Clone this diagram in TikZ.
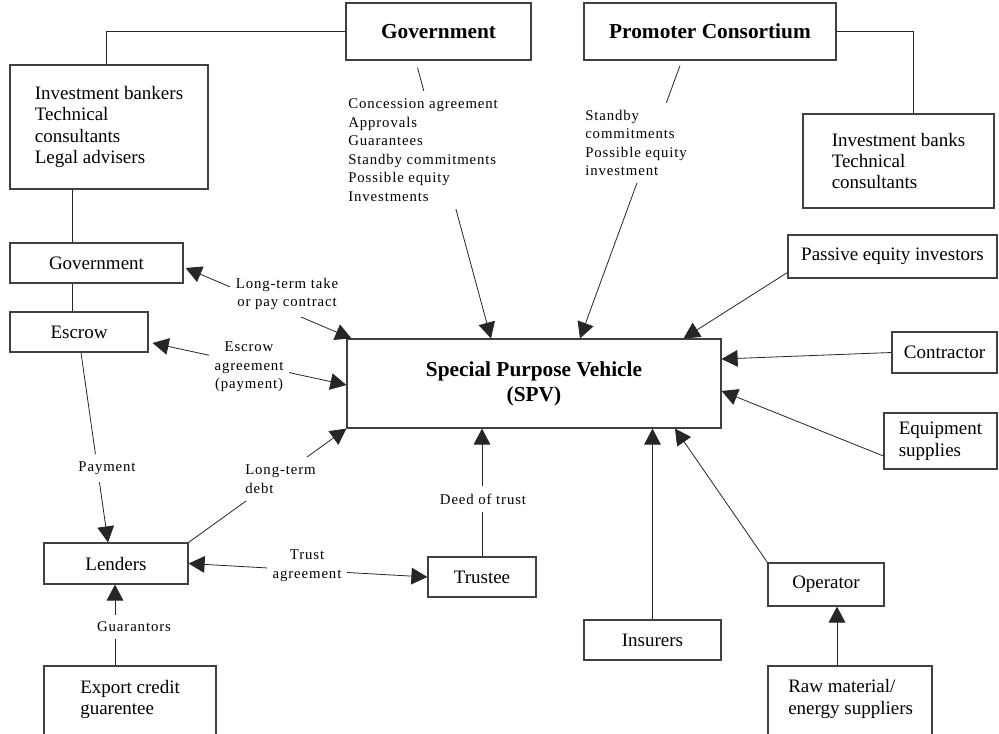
\documentclass[tikz,border=0pt]{standalone}
\usepackage{fontspec}
\setmainfont{Liberation Serif}
\newfontfamily\lblfont[LetterSpace=6]{Liberation Serif}
\usetikzlibrary{arrows.meta}

\begin{document}
\begin{tikzpicture}[x=0.75pt,y=-0.75pt,
  sz/.style 2 args={minimum width=#1*0.75pt,minimum height=#2*0.75pt},
  boxtext/.style={inner sep=0pt,align=left,font=\fontsize{14.25}{16.1}\selectfont},
  box/.style={boxtext,draw=black!75,line width=0.9pt},
  head/.style={box,font=\bfseries\fontsize{16}{18}\selectfont},
  spvbox/.style={box,align=center,font=\bfseries\fontsize{16}{18.75}\selectfont},
  lbl/.style={fill=white,inner xsep=4.5pt,inner ysep=5.5pt,align=left,
              font=\lblfont\fontsize{11.1}{13.9}\selectfont},
  link/.style={draw=black!85,line width=0.6pt},
  arr/.style={link,-{Triangle[length=12pt,width=12.5pt]}},
  arrs/.style={link,{Triangle[length=12pt,width=12.5pt]}-{Triangle[length=12pt,width=12.5pt]}},
]
\path[use as bounding box] (0,0) rectangle (999,733);
\fill[white] (0,0) rectangle (999,733);
\clip (0,0) rectangle (999,733);

% ---- parties ----
\node[head,sz={185}{57}] (gov) at (438.5,31.5) {Government};
\node[head,sz={252}{57}] (prom) at (710,31.5) {Promoter Consortium};
\node[box,sz={198}{124}] (ib) at (109,127) {Investment bankers\\Technical\\consultants\\Legal advisers};
\node[box,sz={191}{94}] (ibr) at (898.5,161) {Investment banks\\Technical\\consultants};
\node[box,sz={173}{40}] (govL) at (96.5,263) {Government};
\node[box,sz={138}{40}] (escrow) at (79,332) {Escrow};
\node[box,sz={144}{41}] (lenders) at (116,563.5) {Lenders};
\node[box,sz={172}{100}] (ecg) at (130,716) {};
\node[boxtext,anchor=west] (ecgtext) at (80,699.5) {Export credit\\guarentee};
\node[box,sz={108}{40}] (trustee) at (482,577) {Trustee};
\node[spvbox,sz={374}{89}] (spv) at (534,383.5) {Special Purpose Vehicle\\(SPV)};
\node[box,sz={209}{43}] (pei) at (892.5,256.5) {Passive equity investors};
\node[box,sz={105}{41}] (contr) at (944.5,352.5) {Contractor};
\node[box,sz={113}{56}] (equip) at (940.5,441) {Equipment\\supplies};
\node[box,sz={137}{40}] (insur) at (652.5,640) {Insurers};
\node[box,sz={116}{43}] (oper) at (826,584.5) {Operator};
\node[box,sz={164}{100}] (raw) at (850,716) {};
\node[boxtext,anchor=west] (rawtext) at (788,699) {Raw material/\\energy suppliers};

% ---- advisers ----
\coordinate (spine) at (72,0);
\draw[link] (gov.west) -| ([shift={(-3,0)}]ib.north);
\draw[link] (ib.south -| spine) -- (govL.north -| spine);
\draw[link] (govL.south -| spine) -- (escrow.north -| spine);
\draw[link] (prom.east) -| ([shift={(14.5,0)}]ibr.north);

% ---- contractual flows ----
\draw[arr] ([shift={(-21,7)}]gov.south) -- ([shift={(-43,0)}]spv.north);
\draw[arr] ([shift={(-30,5)}]prom.south) -- ([shift={(46,0)}]spv.north);
\draw[arrs] ([shift={(2,5)}]govL.east) -- ([shift={(5,0)}]spv.north west);
\draw[arrs] ([shift={(4,11)}]escrow.east) -- ([shift={(0,1.5)}]spv.west);
\draw[arr] (lenders.north east) -- (spv.south west);
\draw[arr] ([shift={(2,0)}]escrow.south) -- ([shift={(-8,0)}]lenders.north);
\draw[arrs] (lenders.east) -- (trustee.west);
\draw[arr] (trustee.north) -- (trustee.north |- spv.south);
\draw[arr] ([shift={(-15,0)}]ecg.north) -- ([shift={(-15,0)}]ecg.north |- lenders.south);
\draw[arr] (insur.north) -- (insur.north |- spv.south);
\draw[arr] (oper.north west) -- ([shift={(141,0)}]spv.south);
\draw[arr] ([shift={(-13,0)}]raw.north) -- ([shift={(-13,0)}]raw.north |- oper.south);
\draw[arr] ([shift={(0,16)}]pei.west) -- ([shift={(-38,0)}]spv.north east);
\draw[arr] (contr.west) -- ([shift={(0,-24.5)}]spv.east);
\draw[arr] ([shift={(0,15)}]equip.west) -- ([shift={(0,7.5)}]spv.east);

% ---- flow labels ----
\node[lbl,anchor=west] (lgov) at (342,150) {Concession agreement\\Approvals\\Guarantees\\Standby commitments\\Possible equity\\Investments};
\node[lbl,anchor=west] (lprom) at (579,143) {Standby\\commitments\\Possible equity\\investment};
\node[lbl,align=center] (ltake) at (287,294) {Long-term take\\or pay contract};
\node[lbl,align=center] (lesc) at (249,367) {Escrow\\agreement\\(payment)};
\node[lbl,anchor=west] (ldebt) at (239,479) {Long-term\\debt};
\node[lbl] (lpay) at (107,468) {Payment};
\node[lbl,align=center] (ltrust) at (307,566) {Trust\\agreement};
\node[lbl] (ldeed) at (483,499) {Deed of trust};
\node[lbl] (lguar) at (134,627) {Guarantors};
\end{tikzpicture}
\end{document}
